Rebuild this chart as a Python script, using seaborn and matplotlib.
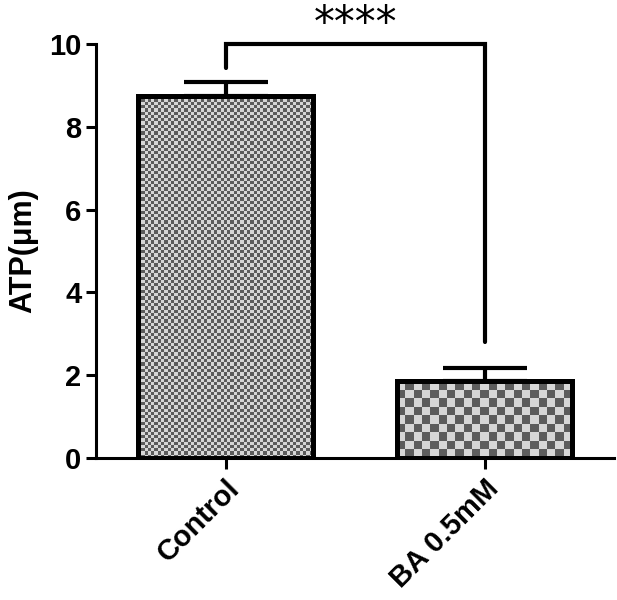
import numpy as np
import pandas as pd
import matplotlib
matplotlib.use("Agg")
import matplotlib.pyplot as plt
import seaborn as sns
from matplotlib.colors import ListedColormap

# Data
groups = ["Control", "BA 0.5mM"]
atp_mean = [8.75, 1.85]
atp_sem = [0.32, 0.32]
bracket_left = 9.42
bracket_right = 2.8
bracket_top = 10.0

df = pd.DataFrame({"group": groups, "atp": atp_mean})

sns.set_style("ticks")
plt.rcParams["font.family"] = ["Liberation Sans", "DejaVu Sans"]
plt.rcParams["font.weight"] = "bold"
for key in ["text.color", "axes.labelcolor", "xtick.color", "ytick.color", "axes.edgecolor"]:
    plt.rcParams[key] = "black"

fig = plt.figure(figsize=(6.17, 6), dpi=100)
ax = fig.add_axes([0.1556, 0.2367, 0.84, 0.69])

sns.barplot(data=df, x="group", y="atp", width=0.675, fill=False,
            edgecolor="black", linewidth=3.6, ax=ax, zorder=3, errorbar=None)

ax.errorbar(x=[0, 1], y=atp_mean, yerr=[[0, 0], atp_sem], fmt="none",
            ecolor="black", elinewidth=3, capsize=30, capthick=3, zorder=1)

ax.set_xlim(-0.5, 1.5)
ax.set_ylim(0, 10)

# checkerboard fill clipped to each bar
fig.canvas.draw()
cell_px = [3.3, 8.3]
cmap = ListedColormap(["#d6d6d6", "#5c5c5c"])
for patch, cp in zip(ax.patches, cell_px):
    bb = patch.get_window_extent()
    nx = max(1, int(round(bb.width / cp)))
    ny = max(1, int(round(bb.height / cp)))
    board = np.add.outer(np.arange(ny), np.arange(nx)) % 2
    x0 = patch.get_x()
    w = patch.get_width()
    h = patch.get_height()
    im = ax.imshow(board, cmap=cmap, extent=(x0, x0 + w, 0, h), origin="lower",
                   aspect="auto", interpolation="nearest", zorder=2)
    im.set_clip_path(patch)

ax.set_xlim(-0.5, 1.5)
ax.set_ylim(0, 10)

# significance bracket
ax.plot([0, 0, 1, 1], [bracket_left, bracket_top, bracket_top, bracket_right],
        color="black", lw=3, clip_on=False, solid_joinstyle="miter", zorder=4)
ax.text(0.5, 10.2, "****", ha="center", va="baseline", fontsize=30,
        fontweight="normal", family="DejaVu Sans")

sns.despine(ax=ax)
for s in ["left", "bottom"]:
    ax.spines[s].set_linewidth(2.2)
ax.tick_params(axis="both", width=2.2, length=7, labelsize=21)
ax.tick_params(axis="x", length=8, labelsize=21)
ax.set_yticks([0, 2, 4, 6, 8, 10])
ax.set_xticks([0, 1])
ax.set_xticklabels(groups, rotation=45, ha="right", rotation_mode="anchor",
                   fontweight="bold")
for t in ax.get_yticklabels():
    t.set_fontweight("bold")
ax.set_xlabel("")
ax.set_ylabel("ATP(μm)", fontsize=22, fontweight="bold", labelpad=8)

fig.savefig("out.png", dpi=100)
